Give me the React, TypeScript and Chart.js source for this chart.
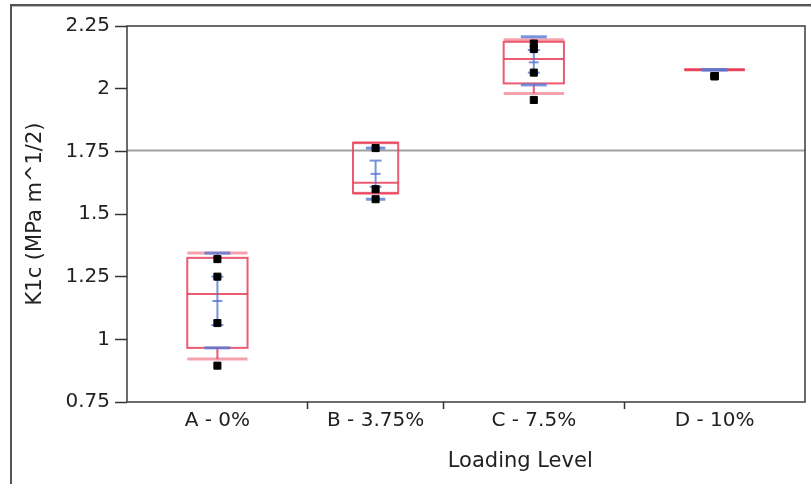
import React, { useEffect, useRef } from "react";
import { Chart, registerables } from "chart.js";

Chart.register(...registerables);

// ---- data ----
const categories = ["A - 0%", "B - 3.75%", "C - 7.5%", "D - 10%"];
const groupSizes = [4, 3, 4, 4];
const pointsA = [1.32, 1.25, 1.065, 0.895];
const pointsB = [1.763, 1.599, 1.559];
const pointsC = [2.18, 2.158, 2.064, 1.955];
const pointsD = [2.05, 2.05, 2.05, 2.05];
const upperLine = [1.344, 1.784, 2.195, 2.075];
const q3 = [1.325, 1.784, 2.187, 2.075];
const median = [1.181, 1.625, 2.118, 2.075];
const q1 = [0.966, 1.583, 2.021, 2.075];
const lowerLine = [0.922, 1.583, 1.981, 2.075];
const means = [1.153, 1.66, 2.105, 2.075];
const errLow = [1.057, 1.609, 2.064, 2.075];
const errHigh = [1.25, 1.713, 2.154, 2.075];
const sdLow = [0.966, 1.559, 2.015, 2.075];
const sdHigh = [1.344, 1.763, 2.207, 2.075];
const grandMean = 1.753;
const yTicks = [0.75, 1, 1.25, 1.5, 1.75, 2, 2.25];
const yTitle = "K1c (MPa m^1/2)";
const xTitle = "Loading Level";

const groupPoints = [pointsA, pointsB, pointsC, pointsD];
const edges: number[] = [0];
groupSizes.forEach((n) => edges.push(edges[edges.length - 1] + n));
const centers = groupSizes.map((_, i) => (edges[i] + edges[i + 1]) / 2);
const total = edges[edges.length - 1];

const FONT = "'DejaVu Sans', sans-serif";
const TEXT = "#222";
const RED = "rgba(232, 62, 88, 0.85)";
const PINK = "rgba(238, 100, 122, 0.6)";
const BLUE = "rgba(86, 120, 212, 0.8)";

const overlayPlugin = {
  id: "overlay",
  beforeDraw(chart: any) {
    const ctx = chart.ctx;
    ctx.save();
    ctx.fillStyle = "#555";
    ctx.fillRect(10, 4, chart.width - 10, 2);
    ctx.fillStyle = "#bbb";
    ctx.fillRect(12, 6, chart.width - 12, 1);
    ctx.fillStyle = "#555";
    ctx.fillRect(10, 4, 2, chart.height - 4);
    ctx.restore();
  },
  beforeDatasetsDraw(chart: any) {
    const { ctx, chartArea: a, scales } = chart;
    const x = scales.x;
    const y = scales.y;
    const Y = (v: number) => y.getPixelForValue(v);
    const hline = (x1: number, x2: number, yy: number) => {
      ctx.beginPath();
      ctx.moveTo(x1, yy);
      ctx.lineTo(x2, yy);
      ctx.stroke();
    };
    const vline = (xx: number, y1: number, y2: number) => {
      if (Math.abs(y1 - y2) < 0.5) return;
      ctx.beginPath();
      ctx.moveTo(xx, y1);
      ctx.lineTo(xx, y2);
      ctx.stroke();
    };
    ctx.save();
    ctx.strokeStyle = "rgba(150,150,150,0.9)";
    ctx.lineWidth = 2;
    hline(a.left, a.right, Y(grandMean));

    for (let i = 0; i < categories.length; i++) {
      const c = x.getPixelForValue(centers[i]);
      const hw = x.getPixelForValue(centers[i] + groupSizes[i] / 6) - c;
      // quantile lines
      ctx.strokeStyle = PINK;
      ctx.lineWidth = 3;
      hline(c - hw, c + hw, Y(upperLine[i]));
      hline(c - hw, c + hw, Y(lowerLine[i]));
      // whiskers + box
      ctx.strokeStyle = RED;
      ctx.lineWidth = 2;
      vline(c, Y(q3[i]), Y(upperLine[i]));
      vline(c, Y(q1[i]), Y(lowerLine[i]));
      ctx.strokeRect(c - hw, Y(q3[i]), 2 * hw, Y(q1[i]) - Y(q3[i]));
      hline(c - hw, c + hw, Y(median[i]));
      // std dev lines
      ctx.strokeStyle = BLUE;
      ctx.lineWidth = 3;
      const sw = hw * 0.43;
      hline(c - sw, c + sw, Y(sdHigh[i]));
      hline(c - sw, c + sw, Y(sdLow[i]));
      // mean error bars
      ctx.lineWidth = 2;
      vline(c, Y(errHigh[i]), Y(errLow[i]));
      if (Math.abs(Y(errHigh[i]) - Y(errLow[i])) > 0.5) {
        hline(c - 6, c + 6, Y(errHigh[i]));
        hline(c - 6, c + 6, Y(errLow[i]));
        hline(c - 5, c + 5, Y(means[i]));
      }
    }
    ctx.restore();
  },
  afterDraw(chart: any) {
    const { ctx, chartArea: a } = chart;
    ctx.save();
    ctx.strokeStyle = "#3a3a3a";
    ctx.lineWidth = 1.5;
    ctx.strokeRect(a.left, a.top, a.right - a.left, a.bottom - a.top);
    ctx.fillStyle = TEXT;
    ctx.font = `21px ${FONT}`;
    ctx.textAlign = "center";
    ctx.textBaseline = "middle";
    ctx.fillText(xTitle, a.left + 0.58 * (a.right - a.left), a.bottom + 60);
    ctx.restore();
  },
};

export default function App() {
  const ref = useRef<HTMLCanvasElement | null>(null);
  useEffect(() => {
    if (!ref.current) return;
    const data = groupPoints.flatMap((pts, i) =>
      pts.map((v) => ({ x: centers[i], y: v }))
    );
    const chart = new Chart(ref.current, {
      type: "scatter",
      data: {
        datasets: [
          {
            data,
            pointStyle: "rect",
            pointRadius: 5,
            pointHoverRadius: 5,
            backgroundColor: "#000",
            borderColor: "#000",
            borderWidth: 1,
          },
        ],
      },
      options: {
        animation: false,
        responsive: true,
        maintainAspectRatio: false,
        layout: { padding: { left: 10, top: 26, right: 3, bottom: 0 } },
        plugins: { legend: { display: false }, tooltip: { enabled: false } },
        events: [],
        scales: {
          x: {
            type: "linear",
            min: 0,
            max: total,
            afterBuildTicks: (s: any) => {
              const vals = [...centers, ...edges.slice(1, -1)].sort((p, q) => p - q);
              s.ticks = vals.map((v) => ({ value: v }));
            },
            afterFit: (s: any) => {
              s.height = 82;
            },
            ticks: {
              autoSkip: false,
              maxRotation: 0,
              padding: 0,
              color: TEXT,
              font: { family: FONT, size: 20 },
              callback: (v: any) => {
                const i = centers.indexOf(Number(v));
                return i >= 0 ? categories[i] : "";
              },
            },
            grid: {
              drawOnChartArea: false,
              tickLength: 7,
              tickWidth: 1.5,
              tickColor: (ctx: any) =>
                ctx.tick && centers.includes(ctx.tick.value) ? "rgba(0,0,0,0)" : "#333",
            },
            border: { display: false },
          },
          y: {
            type: "linear",
            min: 0.75,
            max: 2.25,
            afterBuildTicks: (s: any) => {
              s.ticks = yTicks.map((v) => ({ value: v }));
            },
            afterFit: (s: any) => {
              s.width = 117;
            },
            ticks: {
              padding: 5,
              color: TEXT,
              font: { family: FONT, size: 20 },
              callback: (v: any) => String(v),
            },
            grid: {
              drawOnChartArea: false,
              tickLength: 12,
              tickWidth: 1.5,
              tickColor: "#333",
            },
            border: { display: false },
            title: {
              display: true,
              text: yTitle,
              color: TEXT,
              font: { family: FONT, size: 21 },
              padding: { top: 13, bottom: 0 },
            },
          },
        },
      },
      plugins: [overlayPlugin],
    } as any);
    return () => chart.destroy();
  }, []);

  return (
    <div style={{ position: "fixed", left: 0, top: 0, width: 811, height: 484, background: "#fff" }}>
      <canvas ref={ref} />
    </div>
  );
}
